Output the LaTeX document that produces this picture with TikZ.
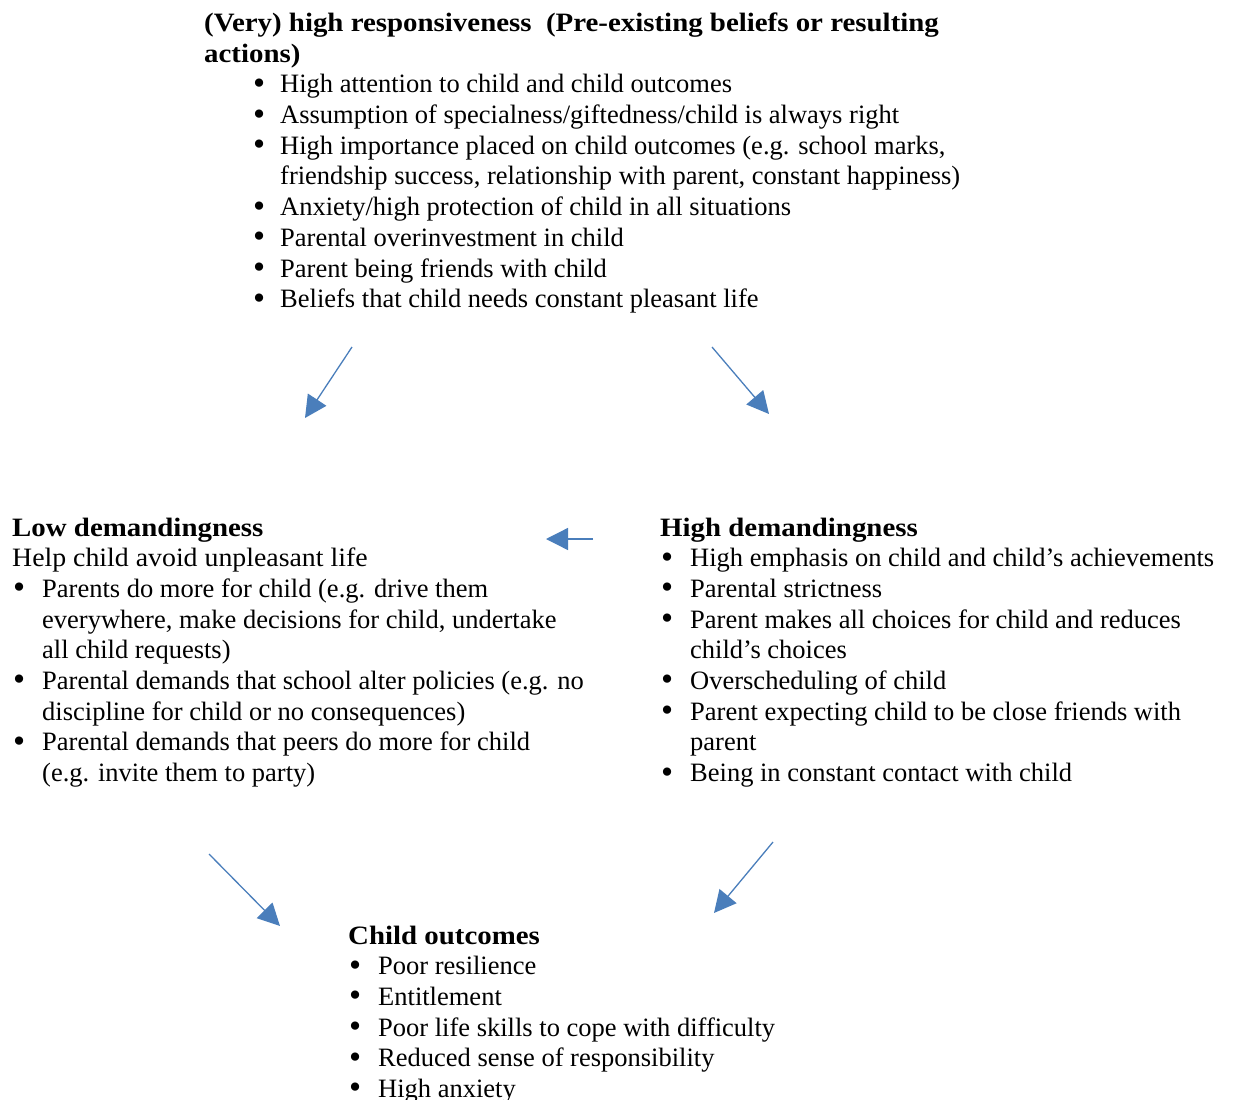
\documentclass[tikz,border=0pt]{standalone}
\usepackage{fontspec}
\setmainfont{Liberation Serif}
\newfontfamily\hdfont{Liberation Serif}[FakeStretch=1.09]
\newfontfamily\subfont{Liberation Serif}[FakeStretch=1.05]
\usetikzlibrary{arrows.meta}
\definecolor{arrblue}{RGB}{74,126,187}
\tikzset{
  block/.style={anchor=base west, inner sep=0pt, font=\fontsize{26.5}{30.7}\selectfont},
  flowarrow/.style={draw=arrblue, line width=1.3pt, -{Triangle[length=22pt,width=22pt,fill=arrblue]}},
}
\newcommand{\hd}[1]{{\hdfont\bfseries #1}}
\newcommand{\bul}{\smash{\raisebox{-0.12ex}{\scalebox{1.3}{\textbullet}}}}
\begin{document}
\begin{tikzpicture}[x=1pt,y=-1pt]
\useasboundingbox (0,0) rectangle (1235,1100);
\node[block] (top) at (204,31.5) {\begin{tabular}[t]{@{}p{49pt}@{}p{27pt}@{}l@{}}
\multicolumn{3}{@{}l@{}}{\hd{(Very) high responsiveness\ \ (Pre-existing beliefs or resulting}}\\
\multicolumn{3}{@{}l@{}}{\hd{actions)}}\\
& \bul & High attention to child and child outcomes\\
& \bul & Assumption of specialness/giftedness/child is always right\\
& \bul & High importance placed on child outcomes (e.g. school marks,\\
& & friendship success, relationship with parent, constant happiness)\\
& \bul & Anxiety/high protection of child in all situations\\
& \bul & Parental overinvestment in child\\
& \bul & Parent being friends with child\\
& \bul & Beliefs that child needs constant pleasant life
\end{tabular}};
\node[block] (low) at (12,536) {\begin{tabular}[t]{@{}p{1pt}@{}p{29pt}@{}l@{}}
\multicolumn{3}{@{}l@{}}{\hd{Low demandingness}}\\
\multicolumn{3}{@{}l@{}}{\subfont Help child avoid unpleasant life}\\
& \bul & Parents do more for child (e.g. drive them\\
& & everywhere, make decisions for child, undertake\\
& & all child requests)\\
& \bul & Parental demands that school alter policies (e.g. no\\
& & discipline for child or no consequences)\\
& \bul & Parental demands that peers do more for child\\
& & (e.g. invite them to party)
\end{tabular}};
\node[block] (high) at (660,536) {\begin{tabular}[t]{@{}p{1pt}@{}p{29pt}@{}l@{}}
\multicolumn{3}{@{}l@{}}{\hd{High demandingness}}\\
& \bul & High emphasis on child and child's achievements\\
& \bul & Parental strictness\\
& \bul & Parent makes all choices for child and reduces\\
& & child's choices\\
& \bul & Overscheduling of child\\
& \bul & Parent expecting child to be close friends with\\
& & parent\\
& \bul & Being in constant contact with child
\end{tabular}};
\node[block] (out) at (348,944) {\begin{tabular}[t]{@{}p{1pt}@{}p{29pt}@{}l@{}}
\multicolumn{3}{@{}l@{}}{\hd{Child outcomes}}\\
& \bul & Poor resilience\\
& \bul & Entitlement\\
& \bul & Poor life skills to cope with difficulty\\
& \bul & Reduced sense of responsibility\\
& \bul & High anxiety
\end{tabular}};
\coordinate (a1s) at (352,347); \coordinate (a1e) at (305,418);
\coordinate (a2s) at (712,347); \coordinate (a2e) at (769,414);
\coordinate (a3s) at (593,539); \coordinate (a3e) at (546,539);
\coordinate (a4s) at (209,854); \coordinate (a4e) at (280,926);
\coordinate (a5s) at (773,842); \coordinate (a5e) at (714,913);
\draw[flowarrow] (a1s) -- (a1e);
\draw[flowarrow] (a2s) -- (a2e);
\draw[flowarrow] (a3s) -- (a3e);
\draw[flowarrow] (a4s) -- (a4e);
\draw[flowarrow] (a5s) -- (a5e);
\end{tikzpicture}
\end{document}
